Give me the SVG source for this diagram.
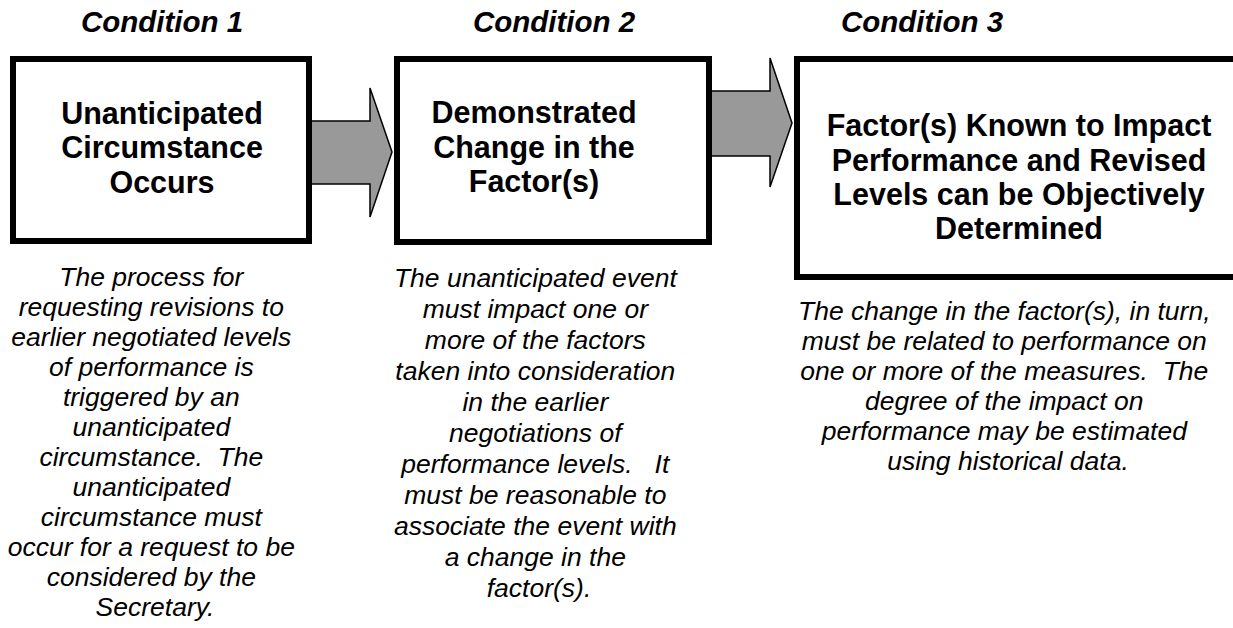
<svg xmlns="http://www.w3.org/2000/svg" width="1233" height="628" viewBox="0 0 1233 628">
<style>
.hdr{font-family:"Liberation Sans",Arial,sans-serif;font-weight:bold;font-style:italic;font-size:29.5px;fill:#000;text-anchor:middle}
.box{fill:#fff;stroke:#000;stroke-width:6}
.bt{font-family:"Liberation Sans",Arial,sans-serif;font-weight:bold;font-size:30.5px;fill:#000;text-anchor:middle}
.body{font-family:"Liberation Sans",Arial,sans-serif;font-style:italic;font-size:26.5px;fill:#000;text-anchor:middle}
.arrow{fill:#999999;stroke:#000;stroke-width:1.5;stroke-linejoin:miter}
</style>
<rect width="1233" height="628" fill="#fff"/>
<g id="connectors">
<polygon class="arrow" points="305,121 370,121 370,88 392,152 370,217 370,184 305,184"/>
<polygon class="arrow" points="705,91 770,91 770,58 792,123 770,187 770,156 705,156"/>
</g>
<g id="condition1">
<text class="hdr" x="162" y="32">Condition 1</text>
<rect class="box" x="13" y="59" width="296" height="182"/>
<text class="bt" x="162" y="124">Unanticipated</text>
<text class="bt" x="162" y="158">Circumstance</text>
<text class="bt" x="162" y="193">Occurs</text>
<text class="body">
<tspan x="155" y="286">The process for</tspan>
<tspan x="155" y="316">requesting revisions to</tspan>
<tspan x="155" y="346">earlier negotiated levels</tspan>
<tspan x="155" y="376">of performance is</tspan>
<tspan x="155" y="406">triggered by an</tspan>
<tspan x="155" y="436">unanticipated</tspan>
<tspan x="155" y="466">circumstance.&#160; The</tspan>
<tspan x="155" y="496">unanticipated</tspan>
<tspan x="155" y="526">circumstance must</tspan>
<tspan x="155" y="556">occur for a request to be</tspan>
<tspan x="155" y="586">considered by the</tspan>
<tspan x="155" y="616">Secretary.</tspan>
</text>
</g>
<g id="condition2">
<text class="hdr" x="554" y="32">Condition 2</text>
<rect class="box" x="397" y="59" width="312" height="183"/>
<text class="bt" x="534" y="123">Demonstrated</text>
<text class="bt" x="534" y="158">Change in the</text>
<text class="bt" x="534" y="192">Factor(s)</text>
<text class="body">
<tspan x="539" y="287">The unanticipated event</tspan>
<tspan x="539" y="318">must impact one or</tspan>
<tspan x="539" y="349">more of the factors</tspan>
<tspan x="539" y="380">taken into consideration</tspan>
<tspan x="539" y="411">in the earlier</tspan>
<tspan x="539" y="442">negotiations of</tspan>
<tspan x="539" y="473">performance levels.&#160;&#160; It</tspan>
<tspan x="539" y="504">must be reasonable to</tspan>
<tspan x="539" y="535">associate the event with</tspan>
<tspan x="539" y="566">a change in the</tspan>
<tspan x="539" y="597">factor(s).</tspan>
</text>
</g>
<g id="condition3">
<text class="hdr" x="922" y="32">Condition 3</text>
<rect class="box" x="797" y="59" width="460" height="218"/>
<text class="bt" x="1019" y="136">Factor(s) Known to Impact</text>
<text class="bt" x="1019" y="171">Performance and Revised</text>
<text class="bt" x="1019" y="205">Levels can be Objectively</text>
<text class="bt" x="1019" y="239">Determined</text>
<text class="body">
<tspan x="1008" y="320">The change in the factor(s), in turn,</tspan>
<tspan x="1008" y="350">must be related to performance on</tspan>
<tspan x="1008" y="380">one or more of the measures.&#160; The</tspan>
<tspan x="1008" y="410">degree of the impact on</tspan>
<tspan x="1008" y="440">performance may be estimated</tspan>
<tspan x="1008" y="470">using historical data.</tspan>
</text>
</g>
</svg>
